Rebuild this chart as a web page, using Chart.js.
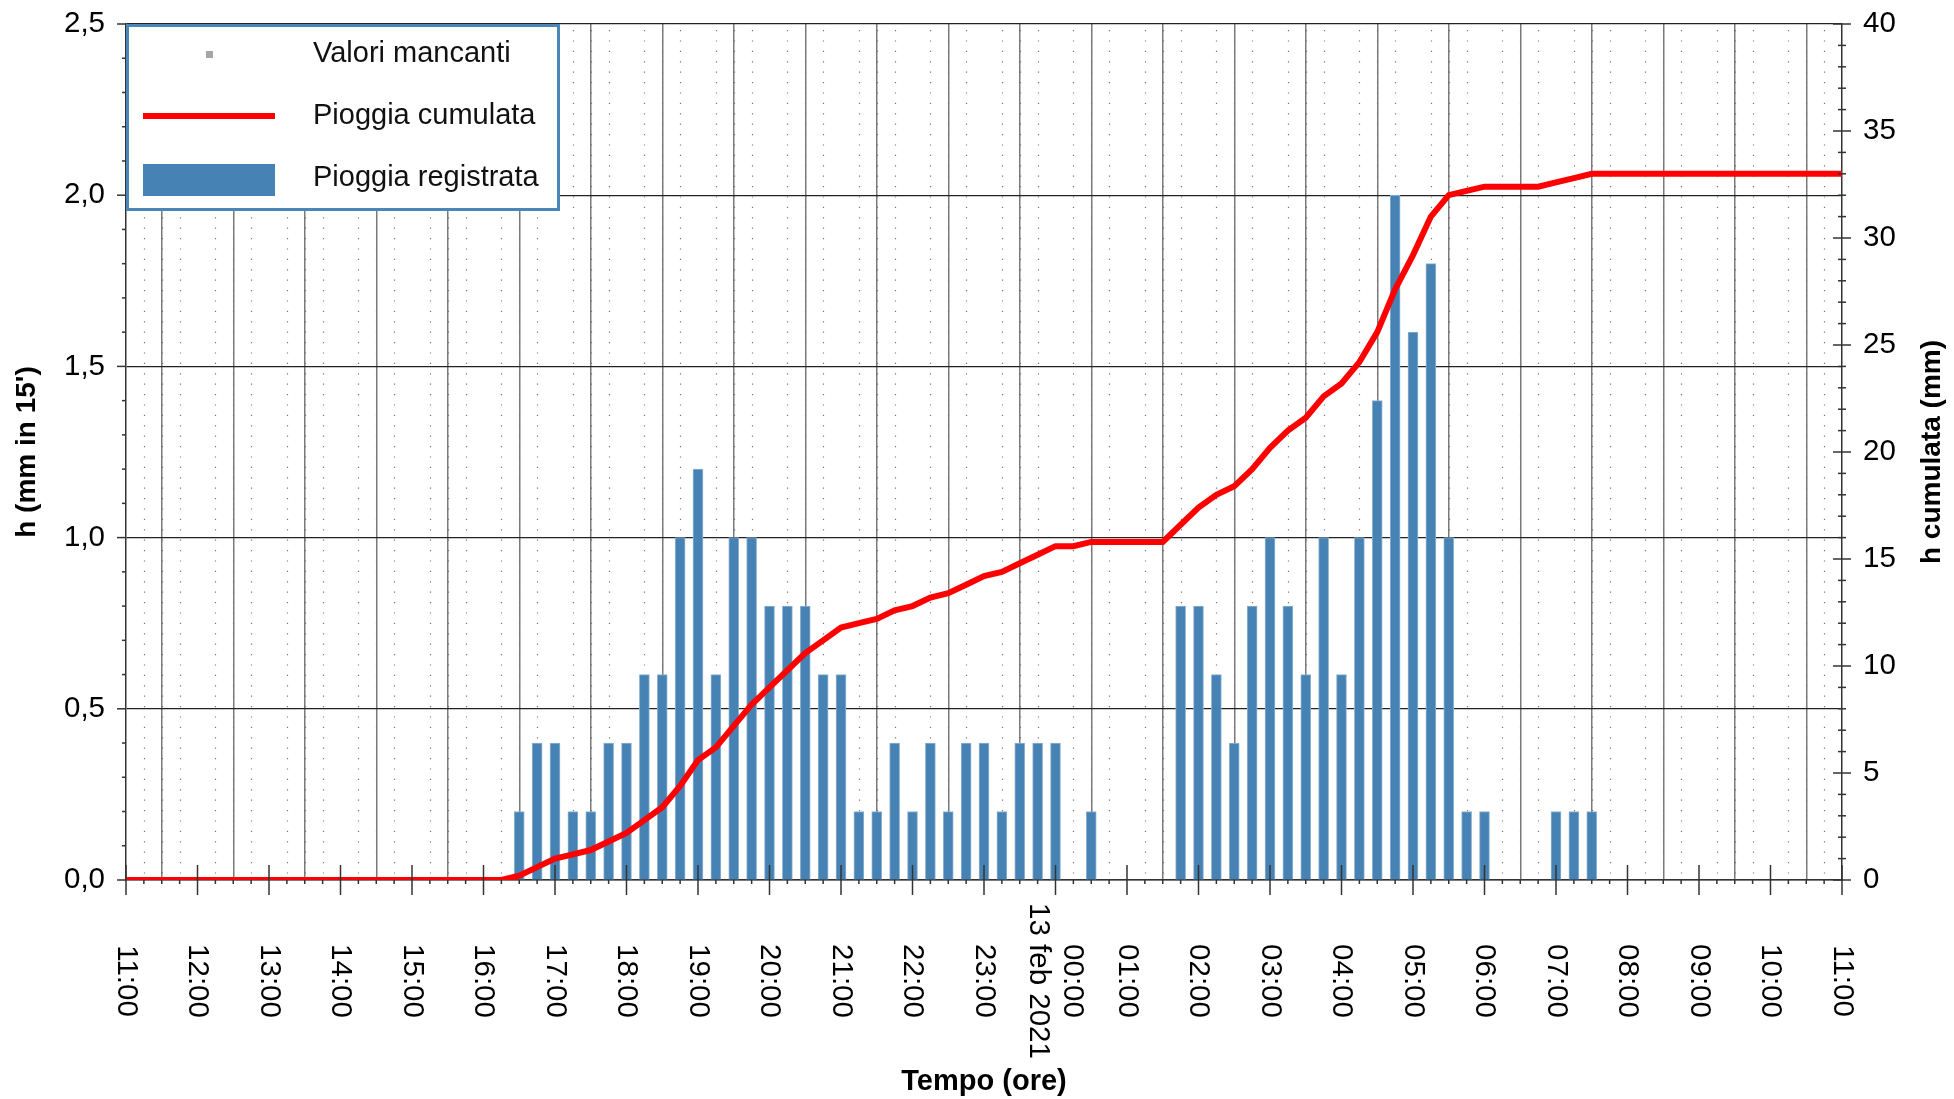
<!DOCTYPE html>
<html>
<head>
<meta charset="utf-8">
<script src="https://cdn.jsdelivr.net/npm/chart.js@4.4.1/dist/chart.umd.min.js"></script>
<style>
html, body { margin: 0; padding: 0; background: #fff; }
#wrap { width: 1954px; height: 1099px; }
</style>
</head>
<body>
<div id="wrap"><canvas id="pioggia"></canvas></div>
<script>
// ore sull'asse x (dalle 11:00 del 12 feb alle 11:00 del 13 feb)
const hourLabels = ['11:00','12:00','13:00','14:00','15:00','16:00','17:00','18:00','19:00','20:00','21:00','22:00','23:00',
  '00:00','01:00','02:00','03:00','04:00','05:00','06:00','07:00','08:00','09:00','10:00','11:00']
const dayLabel = '13 feb 2021'

// pioggia registrata (mm in 15')
const rainTimes = ['16:30','16:45','17:00','17:15','17:30','17:45','18:00','18:15','18:30','18:45','19:00','19:15','19:30','19:45',
  '20:00','20:15','20:30','20:45','21:00','21:15','21:30','21:45','22:00','22:15','22:30','22:45','23:00','23:15','23:30','23:45',
  '00:00','00:30','01:45','02:00','02:15','02:30','02:45','03:00','03:15','03:30','03:45','04:00','04:15','04:30','04:45',
  '05:00','05:15','05:30','05:45','06:00','07:00','07:15','07:30']
const rainValues = [0.2,0.4,0.4,0.2,0.2,0.4,0.4,0.6,0.6,1.0,1.2,0.6,1.0,1.0,
  0.8,0.8,0.8,0.6,0.6,0.2,0.2,0.4,0.2,0.4,0.2,0.4,0.4,0.2,0.4,0.4,
  0.4,0.2,0.8,0.8,0.6,0.4,0.8,1.0,0.8,0.6,1.0,0.6,1.0,1.4,2.0,
  1.6,1.8,1.0,0.2,0.2,0.2,0.2,0.2]

// pioggia cumulata (mm)
const cumTimes = ['11:00','16:15','16:30','16:45','17:00','17:15','17:30','17:45','18:00','18:15','18:30','18:45','19:00','19:15',
  '19:30','19:45','20:00','20:15','20:30','20:45','21:00','21:15','21:30','21:45','22:00','22:15','22:30','22:45','23:00','23:15',
  '23:30','23:45','00:00','00:15','00:30','01:30','01:45','02:00','02:15','02:30','02:45','03:00','03:15','03:30','03:45','04:00',
  '04:15','04:30','04:45','05:00','05:15','05:30','05:45','06:00','06:45','07:00','07:15','07:30','11:00']
const cumValues = [0,0,0.2,0.6,1.0,1.2,1.4,1.8,2.2,2.8,3.4,4.4,5.6,6.2,
  7.2,8.2,9.0,9.8,10.6,11.2,11.8,12.0,12.2,12.6,12.8,13.2,13.4,13.8,14.2,14.4,
  14.8,15.2,15.6,15.6,15.8,15.8,16.6,17.4,18.0,18.4,19.2,20.2,21.0,21.6,22.6,23.2,
  24.2,25.6,27.6,29.2,31.0,32.0,32.2,32.4,32.4,32.6,32.8,33.0,33.0]

const FONT = "'Liberation Sans', Arial, sans-serif"

// 'HH:MM' -> ore dalle 11:00, passando al giorno dopo quando l'ora torna indietro
const toHours = (times) => {
  let prev = -1, day = 0
  return times.map(t => {
    const [h, m] = t.split(':').map(Number)
    let v = h + m/60 - 11 + day
    if (v < prev) { day += 24; v += 24 }
    prev = v
    return v
  })
}
const rainX = toHours(rainTimes), cumX = toHours(cumTimes)

const griglia = {
  id: 'griglia',
  beforeDatasetsDraw(chart) {
    const {ctx, chartArea: ca, scales: {x}} = chart
    ctx.save()
    ctx.strokeStyle = '#777'
    ctx.lineWidth = 1.2
    ctx.setLineDash([1.2, 9.2])
    for (let q = 1; q < 96; q++) {
      if (q % 4 == 0) continue
      const px = Math.round(x.getPixelForValue(q/4)) + 0.5
      ctx.beginPath(); ctx.moveTo(px, ca.top + 6); ctx.lineTo(px, ca.bottom); ctx.stroke()
    }
    ctx.restore()
  },
  afterDatasetsDraw(chart) {
    const {ctx, chartArea: ca, scales: {x, y, y2}} = chart
    ctx.save()
    ctx.strokeStyle = '#333'
    ctx.lineWidth = 1.5
    const seg = (x1, y1, x2, y2_) => { ctx.beginPath(); ctx.moveTo(x1, y1); ctx.lineTo(x2, y2_); ctx.stroke() }
    for (let q = 0; q <= 96; q++) {
      const px = x.getPixelForValue(q/4)
      if (q % 4 == 0) seg(px, ca.bottom - 15, px, ca.bottom + 15)
      else seg(px, ca.bottom, px, ca.bottom + 4)
    }
    for (let k = 0; k <= 25; k++) {
      const py = y.getPixelForValue(k/10)
      seg(ca.left - (k % 5 == 0 ? 9 : 4), py, ca.left, py)
    }
    for (let k = 0; k <= 40; k++) {
      const py = y2.getPixelForValue(k)
      const l = k % 5 == 0 ? 9 : 4
      seg(ca.right - l, py, ca.right + l, py)
    }
    ctx.restore()
  },
  afterDraw(chart) {
    const {ctx, chartArea: ca, scales: {x}} = chart
    ctx.save()
    ctx.fillStyle = '#000'
    // etichette orarie ruotate
    ctx.font = '29.5px ' + FONT
    ctx.textAlign = 'center'
    ctx.textBaseline = 'middle'
    hourLabels.forEach((lab, i) => {
      const lines = i == 13 ? [lab, dayLabel] : [lab]
      lines.forEach((txt, k) => {
        const off = (k - (lines.length - 1)/2) * 34
        ctx.save()
        ctx.translate(x.getPixelForValue(i) - off, ca.bottom + 101)
        ctx.rotate(Math.PI/2)
        ctx.fillText(txt, 0, 0)
        ctx.restore()
      })
    })
    // titoli assi
    ctx.font = 'bold 29px ' + FONT
    ctx.fillText('Tempo (ore)', (ca.left + ca.right)/2, ca.bottom + 202)
    const mid = (ca.top + ca.bottom)/2
    ctx.font = 'bold 28px ' + FONT
    ctx.save(); ctx.translate(27, mid); ctx.rotate(-Math.PI/2); ctx.fillText("h (mm in 15')", 0, 0); ctx.restore()
    ctx.save(); ctx.translate(ca.right + 90, mid); ctx.rotate(-Math.PI/2); ctx.fillText('h cumulata (mm)', 0, 0); ctx.restore()

    // legenda
    const bx = ca.left, by = ca.top
    ctx.fillStyle = '#fff'
    ctx.fillRect(bx, by, 434, 187)
    ctx.strokeStyle = '#4a86b8'
    ctx.lineWidth = 3
    ctx.strokeRect(bx + 1.5, by + 1.5, 431, 184)
    ctx.font = '29px ' + FONT
    ctx.textAlign = 'left'
    const rows = [30, 92, 154]
    chart.data.datasets.forEach((ds, i) => {
      const ry = by + rows[i]
      if (ds.type == 'line' && ds.showLine === false) {
        ctx.fillStyle = ds.backgroundColor
        ctx.fillRect(bx + 80, ry - 3, 7, 7)
      } else if (ds.type == 'line') {
        ctx.fillStyle = ds.borderColor
        ctx.fillRect(bx + 17, ry - 3, 132, 6)
      } else {
        ctx.fillStyle = ds.backgroundColor
        ctx.fillRect(bx + 17, ry - 14, 132, 32)
      }
      ctx.fillStyle = '#111'
      ctx.fillText(ds.label, bx + 187, ry)
    })
    ctx.restore()
  }
}

// niente margini automatici per le etichette: l'area del grafico e' fissata dal layout
const noPad = s => { s.paddingTop = 0; s.paddingBottom = 0 }

new Chart(document.getElementById('pioggia'), {
  type: 'bar',
  data: {
    datasets: [
      { type: 'line', label: 'Valori mancanti', data: [], showLine: false, backgroundColor: '#a6a6a6', borderColor: '#a6a6a6', order: 2 },
      { type: 'line', label: 'Pioggia cumulata', yAxisID: 'y2', data: cumX.map((v, i) => ({x: v, y: cumValues[i]})),
        borderColor: '#ff0000', borderWidth: 6, pointRadius: 0, tension: 0, order: 1 },
      { type: 'bar', label: 'Pioggia registrata', yAxisID: 'y', data: rainX.map((v, i) => ({x: v, y: rainValues[i]})),
        backgroundColor: '#4682b4', borderColor: '#8fb3d3', borderWidth: 1, barThickness: 10, order: 3 }
    ]
  },
  options: {
    responsive: true,
    maintainAspectRatio: false,
    animation: false,
    layout: { padding: { top: 24, right: 0, bottom: 0, left: 0 } },
    plugins: { legend: { display: false }, tooltip: { enabled: false } },
    scales: {
      x: {
        type: 'linear', min: 0, max: 24, offset: false,
        ticks: { stepSize: 1, display: false },
        grid: { color: '#7a7a7a', lineWidth: 1.5, drawTicks: false },
        border: { color: '#333', width: 1.5 },
        afterFit: s => { s.height = 219; s.paddingLeft = 0; s.paddingRight = 0 }
      },
      y: {
        position: 'left', min: 0, max: 2.5,
        ticks: { stepSize: 0.5, padding: 21, color: '#000', font: { family: FONT, size: 29.5 },
          callback: v => v.toFixed(1).replace('.', ',') },
        grid: { color: '#222', lineWidth: 1.2, drawTicks: false },
        border: { color: '#333', width: 1.5 },
        afterFit: s => { s.width = 126; noPad(s) }
      },
      y2: {
        position: 'right', min: 0, max: 40,
        ticks: { stepSize: 5, padding: 21, color: '#000', font: { family: FONT, size: 29.5 } },
        grid: { drawOnChartArea: false, drawTicks: false },
        border: { color: '#333', width: 1.5 },
        afterFit: s => { s.width = 112; noPad(s) }
      }
    }
  },
  plugins: [griglia]
})
</script>
</body>
</html>
